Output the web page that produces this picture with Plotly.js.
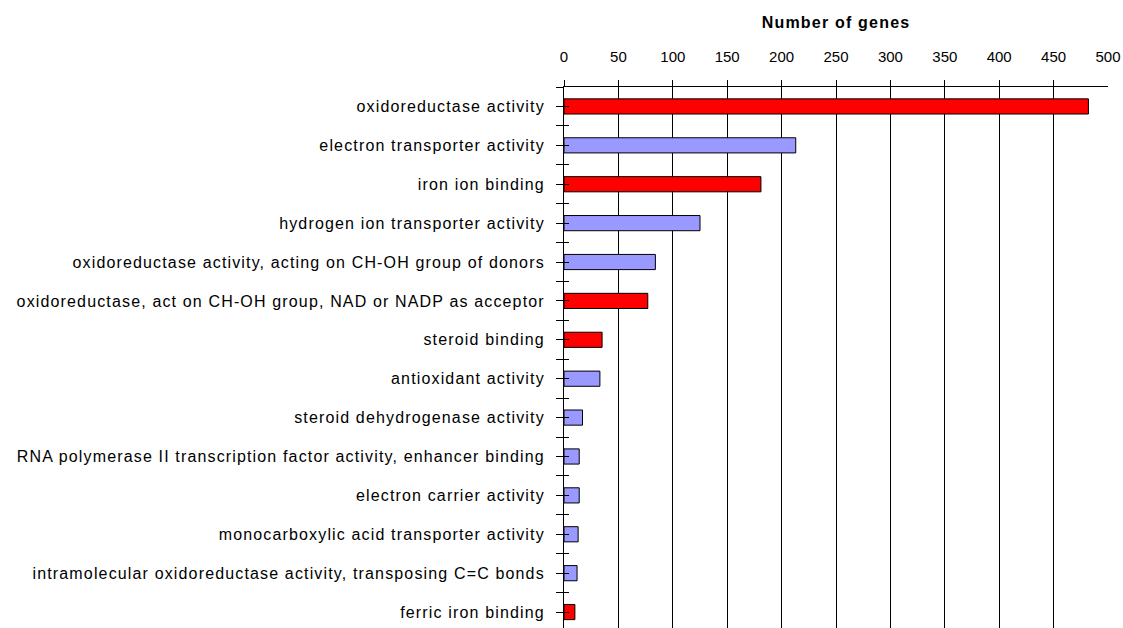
<!DOCTYPE html>
<html>
<head>
<meta charset="utf-8">
<script src="https://cdn.plot.ly/plotly-3.0.1.min.js"></script>
<style>
html, body { margin: 0; padding: 0; background: #ffffff; }
#chart .ytick text { letter-spacing: 1.15px; }
#chart .gtitle { letter-spacing: 1.2px; }
</style>
</head>
<body>
<div id="chart" style="width:1123px;height:628px;"></div>
<script>
// ---- data ----
const categories = [
  "oxidoreductase activity",
  "electron transporter activity",
  "iron ion binding",
  "hydrogen ion transporter activity",
  "oxidoreductase activity, acting on CH-OH group of donors",
  "oxidoreductase, act on CH-OH group, NAD or NADP as acceptor",
  "steroid binding",
  "antioxidant activity",
  "steroid dehydrogenase activity",
  "RNA polymerase II transcription factor activity, enhancer binding",
  "electron carrier activity",
  "monocarboxylic acid transporter activity",
  "intramolecular oxidoreductase activity, transposing C=C bonds",
  "ferric iron binding"
];
const geneCounts = [482, 213, 181, 125, 84, 77, 35, 33, 17, 14, 14, 13, 12, 10];
const highlighted = [true, false, true, false, false, true, true, false, false, false, false, false, false, true];
const xTickValues = [0, 50, 100, 150, 200, 250, 300, 350, 400, 450, 500];
const xTickLabels = ["0", "50", "100", "150", "200", "250", "300", "350", "400", "450", "500"];
const axisTitle = "Number of genes";

// ---- derived ----
const positions = categories.map((c, i) => i);
const boundaries = [-0.5].concat(positions.map(p => p + 0.5));
const allTicks = positions.concat(boundaries);
const barColors = highlighted.map(h => h ? "#ff0000" : "#9999ff");
const minorTickVals = xTickValues.slice(0, -1);
const lastTick = xTickValues.slice(-1);

const bars = {
  type: "bar",
  orientation: "h",
  x: geneCounts,
  y: positions,
  text: categories,
  textposition: "none",
  hovertemplate: "%{text}: %{x}<extra></extra>",
  width: 0.39,
  marker: { color: barColors, line: { color: "#000000", width: 1 } },
  xaxis: "x",
  yaxis: "y"
};
const helper = {
  type: "scatter", mode: "markers", x: [], y: [],
  xaxis: "x2", yaxis: "y2", showlegend: false, hoverinfo: "skip"
};

const fontFamily = "'Liberation Sans', Arial, sans-serif";

const layout = {
  width: 1123,
  height: 628,
  margin: { l: 564, r: 15, t: 87, b: 0, pad: 0 },
  paper_bgcolor: "#ffffff",
  plot_bgcolor: "#ffffff",
  showlegend: false,
  bargap: 0.61,
  font: { family: fontFamily, color: "#000000" },
  title: {
    text: "<b>" + axisTitle + "</b>",
    font: { family: fontFamily, size: 16, color: "#000000" },
    xref: "paper", x: 0.5, xanchor: "center",
    yref: "container", y: 1 - 22 / 628, yanchor: "middle"
  },
  xaxis: {
    side: "top",
    range: [0, 500],
    tickmode: "array",
    tickvals: xTickValues,
    ticktext: xTickLabels,
    ticks: "",
    ticklabelstandoff: 18,
    tickfont: { family: fontFamily, size: 15, color: "#000000" },
    showline: true, linecolor: "#000000", linewidth: 1,
    showgrid: false, zeroline: false, fixedrange: true,
    minor: {
      tickmode: "array",
      tickvals: minorTickVals,
      ticks: "outside", ticklen: 6, tickwidth: 1, tickcolor: "#000000",
      showgrid: true, gridcolor: "#000000", gridwidth: 1
    }
  },
  xaxis2: {
    overlaying: "x", side: "top", anchor: "y",
    range: [0, 500],
    tickmode: "array", tickvals: lastTick,
    ticks: "inside", ticklen: 6, tickwidth: 1, tickcolor: "#000000",
    showticklabels: false, showgrid: false, zeroline: false, showline: false, fixedrange: true
  },
  yaxis: {
    range: [13.41, -0.5],
    tickmode: "array",
    tickvals: positions,
    ticktext: categories,
    ticks: "outside", ticklen: 7, tickwidth: 1, tickcolor: "#000000",
    ticklabelstandoff: 8,
    tickfont: { family: fontFamily, size: 16, color: "#000000" },
    showline: true, linecolor: "#000000", linewidth: 1,
    showgrid: false, zeroline: false, fixedrange: true,
    minor: {
      tickmode: "array",
      tickvals: boundaries,
      ticks: "outside", ticklen: 7, tickwidth: 1, tickcolor: "#000000",
      showgrid: false
    }
  },
  yaxis2: {
    overlaying: "y", side: "left", anchor: "x2",
    range: [13.41, -0.5],
    tickmode: "array", tickvals: allTicks,
    ticks: "inside", ticklen: 5, tickwidth: 1, tickcolor: "#000000",
    showticklabels: false, showgrid: false, zeroline: false, showline: false, fixedrange: true
  }
};

Plotly.newPlot("chart", [bars, helper], layout, { displayModeBar: false, staticPlot: false });
</script>
</body>
</html>
